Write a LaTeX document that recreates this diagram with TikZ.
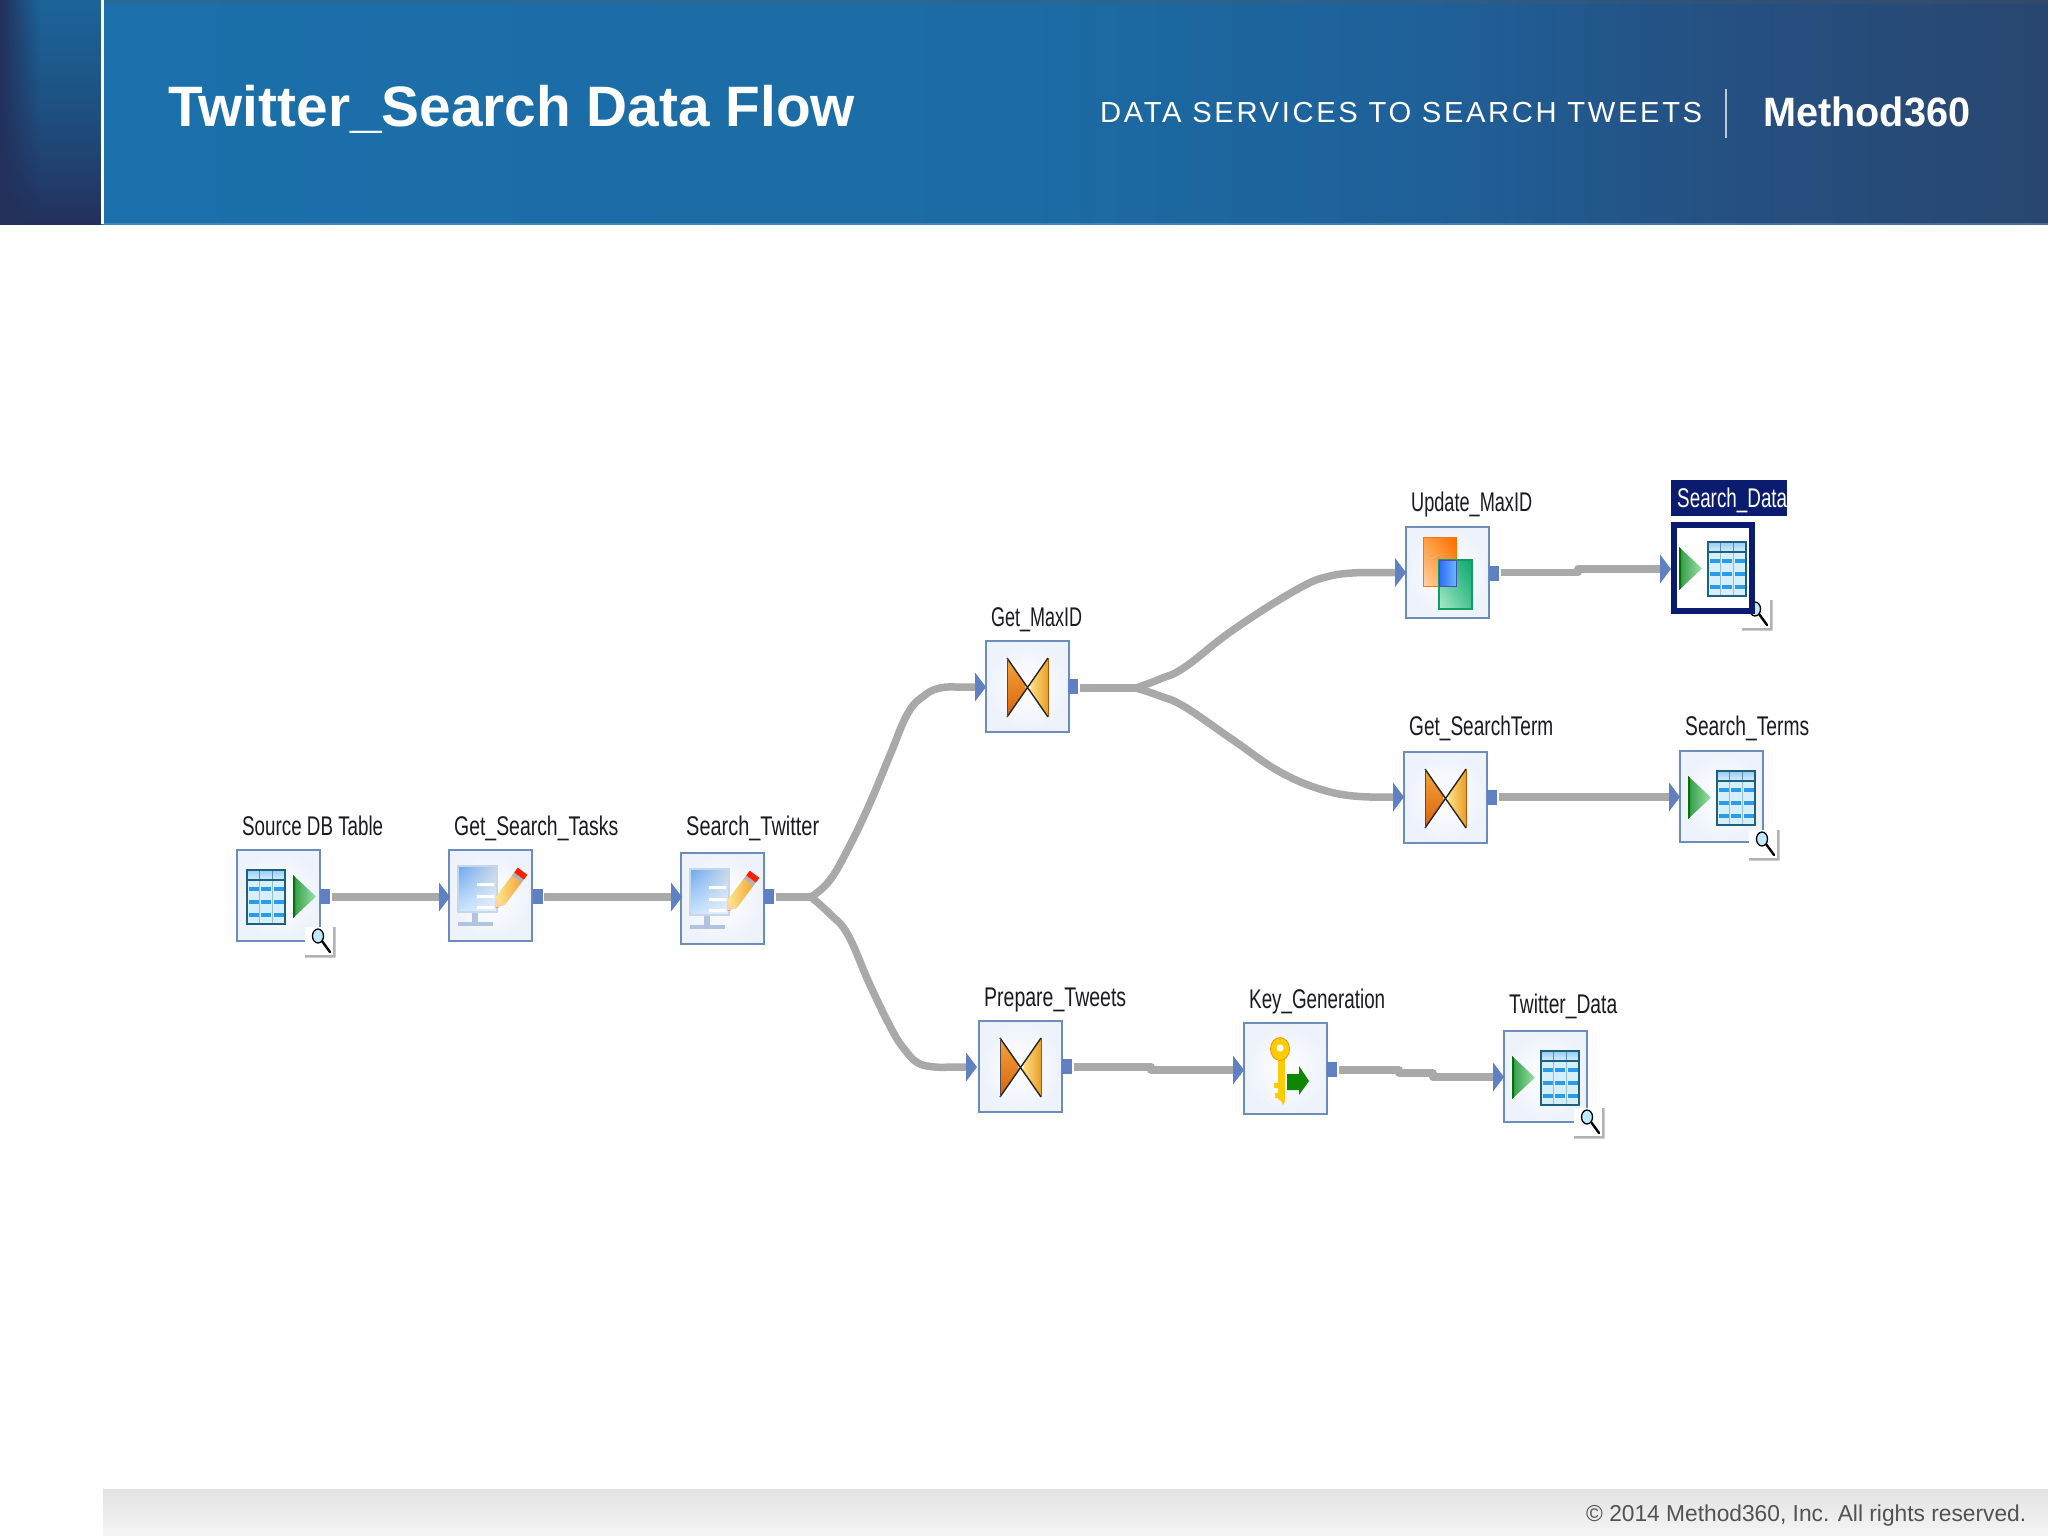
\documentclass[tikz,border=0pt]{standalone}
\usepackage{fontspec}
\usepackage{graphicx}
\usetikzlibrary{fadings,shadings}
\setmainfont{Liberation Sans}
\definecolor{boxline}{HTML}{6C8CBE}
\definecolor{boxedge}{HTML}{EDF2FB}
\definecolor{portc}{HTML}{5F80C2}
\definecolor{wire}{HTML}{A9A9A9}
\definecolor{navy}{HTML}{0B1C70}
\definecolor{labtxt}{HTML}{1A1A20}
\definecolor{tblline}{HTML}{1F5F82}
\definecolor{tblbody}{HTML}{D6F0FB}
\definecolor{tblbar}{HTML}{2A9BE8}
\definecolor{hA}{HTML}{1B70AB}
\definecolor{hB}{HTML}{1C6BA4}
\definecolor{hC}{HTML}{1F6098}
\definecolor{hD}{HTML}{255082}
\definecolor{hE}{HTML}{28466F}
\definecolor{sA}{HTML}{1B6499}
\definecolor{sB}{HTML}{1E4F80}
\definecolor{sC}{HTML}{23305B}
\definecolor{bowA}{HTML}{D9620E}
\definecolor{bowB}{HTML}{F2A63A}
\definecolor{bowC}{HTML}{FFE88E}
\definecolor{bowD}{HTML}{E99E2A}
\definecolor{ovG}{HTML}{0CA870}
\definecolor{ovH}{HTML}{A9EDC8}
\definecolor{ovL}{HTML}{0F9F63}
\definecolor{triA}{HTML}{2F9A45}
\definecolor{triB}{HTML}{9BE3A6}
\definecolor{scrA}{HTML}{6CA8F0}
\definecolor{scrB}{HTML}{CDE6FF}
\definecolor{scrC}{HTML}{C7D7E8}
\definecolor{scrD}{HTML}{E8F2FF}
\definecolor{standc}{HTML}{B0C4E0}
\pgfdeclarehorizontalshading{hdrshade}{100bp}{color(0bp)=(hA);color(25bp)=(hA);color(50bp)=(hB);color(60bp)=(hC);color(67bp)=(hD);color(75bp)=(hE);color(100bp)=(hE)}
\pgfdeclareverticalshading{bandshade}{100bp}{color(0bp)=(sC);color(25bp)=(sC);color(50bp)=(sB);color(75bp)=(sA);color(100bp)=(sA)}
\newcommand{\fitw}[2]{\resizebox{#1pt}{\height}{#2}}
\newcommand{\fsz}[1]{\fontsize{#1}{#1}\selectfont}
\newcommand{\inport}[3]{\coordinate (#1) at (#2,#3);\fill[portc] (#1) -- ++(0,-14.5) -- ++(11,14.5) -- ++(-11,14.5) -- cycle;}
\tikzset{
  box/.style={draw=boxline,line width=1.6pt,inner color=white,outer color=boxedge,minimum width=83pt,minimum height=91pt,inner sep=0pt,outer sep=0pt,anchor=north west},
  outport/.style={fill=portc,minimum width=10pt,minimum height=15pt,inner sep=0pt,outer sep=0pt,anchor=west},
  conn/.style={draw=wire,line width=7.5pt,line join=round},
  lab/.style={inner sep=0pt,anchor=base west,text=labtxt,font=\fsz{27}},
  pics/tbl/.style={code={
    \fill[tblbody] (0,0) rectangle (38,54);
    \shade[top color=white!50!tblbar,bottom color=tblbody] (0,0) rectangle (38,10);
    \foreach \yy in {17,30,43}{\foreach \xx in {1.5,14,26.5}{\fill[tblbar] (\xx,\yy) rectangle ++(10,4.4);}}
    \draw[tblline!35!tblbody,line width=1pt] (12.8,10)--(12.8,54) (25.4,10)--(25.4,54);
    \draw[tblline!70!white,line width=1.1pt] (12.8,0)--(12.8,10) (25.4,0)--(25.4,10);
    \draw[tblline,line width=1.8pt] (0,0) rectangle (38,54) (0,10)--(38,10);
  }},
  pics/tri/.style={code={
    \shade[left color=triA,right color=triB] (0,0) -- (23,21.5) -- (0,43) -- cycle;
    \fill[green!45!black] (0,0) -- (2,2) -- (2,41) -- (0,43) -- cycle;
  }},
  pics/lens/.style={code={
    \fill[white] (0,0) rectangle (28,28);
    \fill[black!30] (28,0) rectangle (30.5,30.5) (0,28) rectangle (30.5,30.5);
    \draw[black,line width=2.4pt,line cap=round] (17,14) -- (25,25);
    \draw[black,fill=cyan!25,line width=1.3pt] (13,9) ellipse (5.5 and 7);
  }},
  pics/srcicon/.style={code={
    \pic at (10,20) {tbl};
    \pic at (56,25) {tri};
    \pic at (68,77) {lens};
  }},
  pics/dsticon/.style={code={
    \pic at (8,25) {tri};
    \pic at (37,20) {tbl};
  }},
  pics/bowtie/.style={code={
    \shade[top color=bowB,bottom color=bowA] (21,17) -- (42,46) -- (21,76) -- cycle;
    \shade[left color=bowC,right color=bowD] (62,17) -- (42,46) -- (62,76) -- cycle;
    \draw[white,line width=1.6pt] (23,16) -- (44,46) -- (23,76) (60,16) -- (40,46) -- (60,76);
    \draw[black!85,line width=1.4pt] (21,17) -- (62,76) (62,17) -- (21,76);
    \draw[black!70,line width=1pt] (21,17) -- (21,76);
    \draw[orange!70!black,line width=1pt] (62,17) -- (62,76);
  }},
  pics/monitor/.style={code={
    \fill[standc] (23,62) rectangle (29,75);
    \fill[standc] (9,72) rectangle (44,76);
    \shade[upper left=scrA,lower left=scrB,upper right=scrC,lower right=scrD] (9,16) rectangle (48,62);
    \draw[scrC,line width=1.2pt] (9,16) rectangle (48,62);
    \fill[white] (28,33) rectangle (45,36) (28,45) rectangle (45,48) (28,56) rectangle (45,59);
    \fill[black!60!orange] (46,58) -- (46,55) -- (50,57) -- cycle;
    \fill[orange!35!white] (46,58) -- (46,48) -- (55.6,55.2) -- cycle;
    \shade[left color=bowC,right color=bowB] (46,48) -- (62.8,25.6) -- (72.4,32.8) -- (55.6,55.2) -- cycle;
    \fill[gray!60] (62.8,25.6) -- (65.2,22.4) -- (74.8,29.6) -- (72.4,32.8) -- cycle;
    \fill[red!75!orange] (65.2,22.4) -- (68.8,17.6) -- (78.4,24.8) -- (74.8,29.6) -- cycle;
  }},
  pics/overlap/.style={code={
    \shade[lower left=orange!35!white,upper right=orange!85!red,upper left=orange!75,lower right=orange!75] (17,10) rectangle (50,59);
    \draw[orange!90!red,line width=1pt] (17,10) rectangle (50,59);
    \shade[upper right=ovG,lower left=ovH,upper left=ovG!60!ovH,lower right=ovG!60!ovH] (33,33) rectangle (66,82);
    \draw[ovL,line width=1.6pt] (33,33) rectangle (66,82);
    \shade[left color=blue!75!cyan!80,right color=blue!45!cyan!60] (33,33) rectangle (50,59);
    \draw[blue!60!black!70,line width=.8pt] (33,33) rectangle (50,59);
  }},
  pics/keyicon/.style={code={
    \fill[yellow!65!orange] (34,30) -- (41,30) -- (41,78) -- (39,82) -- (37,78) -- (34,76) -- cycle;
    \fill[yellow!65!orange] (30,60) rectangle (35,65) (31,70) rectangle (35,75);
    \fill[yellow!65!orange,draw=orange!90!yellow,line width=.8pt] (36,26) ellipse (9.5 and 11.5);
    \fill[white] (36,25) circle (3.6);
    \fill[green!50!black!95!yellow] (43,51) -- (55,51) -- (55,43) -- (65,58) -- (55,72) -- (55,67) -- (43,67) -- cycle;
  }},
}
\tikzfading[name=fadeband,left color=transparent!0,right color=transparent!100]
\begin{document}
\begin{tikzpicture}[x=1pt,y=-1pt]
\useasboundingbox (0,0) rectangle (2048,1536);
\fill[white] (0,0) rectangle (2048,1536);
% header
\path[shading=hdrshade,shading angle=0] (0,0) rectangle (2048,224);
\path[shading=bandshade,shading angle=0] (0,0) rectangle (101,224);
\fill[sC,path fading=fadeband] (0,0) rectangle (40,224);
\fill[white] (101,0) rectangle (104,224);
\fill[black!30!gray,opacity=.22] (104,0) rectangle (2048,4);
\fill[white!50!hA,opacity=.35] (104,222.8) rectangle (2048,224.5);
\node[inner sep=0pt,anchor=base west,text=white] (title) at (168,126) {\fitw{687}{\fsz{57}\bfseries Twitter\_Search Data Flow}};
\node[inner sep=0pt,anchor=base west,text=white] (sub) at (1100,122) {\fitw{602}{\fsz{29}\addfontfeature{LetterSpace=9}DATA SERVICES TO SEARCH TWEETS}};
\node[inner sep=0pt,anchor=base west,text=white] (brand) at (1763,127) {\fitw{207}{\fsz{41}\bfseries Method360}};
\coordinate (sepA) at (1726,89);
\coordinate (sepB) at (1726,138);
\draw[white!70!hD,line width=1.2pt] (sepA) -- (sepB);
% footer
\shade[top color=black!11,bottom color=black!4] (103,1489) rectangle (2048,1536);
\node[inner sep=0pt,anchor=base west,text=black!68] (copy) at (1586,1521) {\fitw{440}{\fsz{23}© 2014 Method360, Inc. All rights reserved.}};
% boxes
\node[box] (src) at (237,850) {};
\node[box] (gst) at (449,850) {};
\node[box] (stw) at (681,853) {};
\node[box] (gm) at (986,641) {};
\node[box] (um) at (1406,527) {};
\node[box] (gt) at (1404,752) {};
\node[box] (sterm) at (1680,751) {};
\node[box] (pt) at (979,1021) {};
\node[box] (kg) at (1244,1023) {};
\node[box] (td) at (1504,1031) {};
% output ports
\node[outport] (src-out) at (320,896) {};
\node[outport] (gst-out) at (532.5,896) {};
\node[outport] (stw-out) at (764,896) {};
\node[outport] (gm-out) at (1068,686) {};
\node[outport] (um-out) at (1489,573) {};
\node[outport] (gt-out) at (1487,797) {};
\node[outport] (pt-out) at (1062,1066) {};
\node[outport] (kg-out) at (1327,1069) {};
% input ports
\inport{gst-in}{439}{897}
\inport{stw-in}{671}{897}
\inport{gm-in}{975}{687}
\inport{um-in}{1395}{572.5}
\inport{gt-in}{1393}{797}
\inport{sterm-in}{1669}{797}
\inport{sd-in}{1660}{569}
\inport{pt-in}{966}{1067}
\inport{kg-in}{1233}{1070}
\inport{td-in}{1493}{1077}
% branch points
\coordinate (jA) at (811,897);
\coordinate (jB) at (1136,688);
% connectors
\draw[conn,shorten <=1.5pt] (src-out.east |- gst-in) -- (gst-in);
\draw[conn,shorten <=1.5pt] (gst-out.east |- stw-in) -- (stw-in);
\draw[conn,shorten <=1.5pt] (stw-out.east |- jA) -- (jA);
\draw[conn] plot[smooth,tension=.7] coordinates {(jA) (830,880) (850,845) (870,803) (890,755) (908,713) (925,695) (940,688) (955,687)} -- (gm-in);
\draw[conn] plot[smooth,tension=.7] coordinates {(jA) (830,914) (848,935) (870,985) (892,1030) (905,1050) (918,1063) (935,1067) (950,1067)} -- (pt-in);
\draw[conn,shorten <=1.5pt] (gm-out.east |- jB) -- (jB);
\draw[conn] plot[smooth,tension=.7] coordinates {(jB) (1160,679) (1185,667) (1233,630) (1296,590) (1330,576) (1365,572.5)} -- (um-in);
\draw[conn] plot[smooth,tension=.7] coordinates {(jB) (1160,696) (1185,707) (1233,740) (1282,773) (1330,792) (1370,797)} -- (gt-in);
\draw[conn,shorten <=1.5pt] (um-out.east |- um-in) -- (1578,572.5) -- (1578,569) -- (sd-in);
\draw[conn,shorten <=1.5pt] (gt-out.east) -- (sterm-in);
\draw[conn,shorten <=1.5pt] (pt-out.east |- pt-in) -- (1151,1067) -- (1151,1070) -- (kg-in);
\draw[conn,shorten <=1.5pt] (kg-out.east |- kg-in) -- (1399,1070) -- (1399,1073) -- (1433,1073) -- (1433,1077) -- (td-in);
% icons
\path (src.north west) pic {srcicon};
\path (gst.north west) pic {monitor};
\path (stw.north west) pic {monitor};
\path (gm.north west) pic {bowtie};
\path (um.north west) pic {overlap};
\path (gt.north west) pic {bowtie};
\path (sterm.north west) pic {dsticon};
\path ([shift={(69,79)}]sterm.north west) pic {lens};
\path (pt.north west) pic {bowtie};
\path (kg.north west) pic {keyicon};
\path (td.north west) pic {dsticon};
\path ([shift={(70,77)}]td.north west) pic {lens};
% selected target
\path (1742,600) pic {lens};
\node[draw=navy,line width=6pt,fill=white,minimum width=78pt,minimum height=86pt,inner sep=0pt,outer sep=0pt,anchor=north west] (sd) at (1674,525) {};
\path ([shift={(-3,-3)}]sd.north west) pic {dsticon};
\node[fill=navy,minimum width=116pt,minimum height=36pt,inner sep=0pt,outer sep=0pt,anchor=north west] (sdlabbg) at (1671,480) {};
% labels
\node[lab] (lsrc) at (242,835) {\fitw{141}{Source DB Table}};
\node[lab] (lgst) at (454,835) {\fitw{164}{Get\_Search\_Tasks}};
\node[lab] (lstw) at (686,835) {\fitw{133}{Search\_Twitter}};
\node[lab] (lgm) at (991,626) {\fitw{91}{Get\_MaxID}};
\node[lab] (lum) at (1411,511) {\fitw{121}{Update\_MaxID}};
\node[lab,text=white] (lsd) at (1677,507) {\fitw{110}{Search\_Data}};
\node[lab] (lgt) at (1409,735) {\fitw{144}{Get\_SearchTerm}};
\node[lab] (lsterm) at (1685,735) {\fitw{124}{Search\_Terms}};
\node[lab] (lpt) at (984,1006) {\fitw{142}{Prepare\_Tweets}};
\node[lab] (lkg) at (1249,1008) {\fitw{136}{Key\_Generation}};
\node[lab] (ltd) at (1509,1013) {\fitw{108}{Twitter\_Data}};
\end{tikzpicture}
\end{document}
